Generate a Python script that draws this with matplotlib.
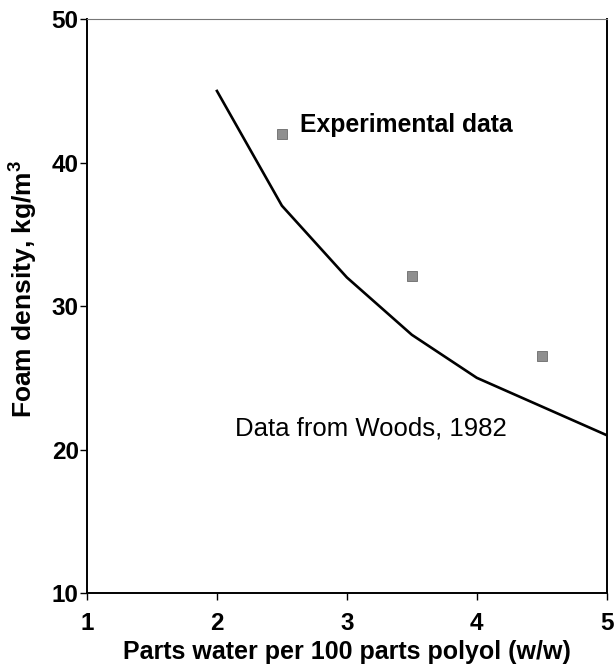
import matplotlib
matplotlib.use("Agg")
import matplotlib.pyplot as plt

# Data
woods_x = [2.0, 2.5, 3.0, 3.5, 4.0, 4.5, 5.0]
woods_y = [45.0, 37.0, 32.0, 28.0, 25.0, 23.0, 21.0]
exp_x = [2.5, 3.5, 4.5]
exp_y = [42.0, 32.1, 26.5]
x_ticks = [1, 2, 3, 4, 5]
y_ticks = [10, 20, 30, 40, 50]

plt.rcParams['font.family'] = ['Liberation Sans', 'DejaVu Sans']
plt.rcParams['mathtext.fontset'] = 'custom'
plt.rcParams['mathtext.rm'] = 'Liberation Sans'
plt.rcParams['mathtext.bf'] = 'Liberation Sans:bold'

fig = plt.figure(figsize=(6.15, 6.64), dpi=100)
ax = fig.add_axes([0.1415, 0.107, 0.845, 0.864])

ax.plot(woods_x, woods_y, color='black', lw=1.9, solid_joinstyle='miter')
ax.plot(exp_x, exp_y, linestyle='none', marker='s', markersize=6.5,
        markerfacecolor='#8f8f8f', markeredgecolor='#6a6a6a', markeredgewidth=0.6)

ax.set_xlim(1, 5)
ax.set_ylim(10, 50)
ax.set_xticks(x_ticks)
ax.set_yticks(y_ticks)
ax.set_xticklabels([str(v) for v in x_ticks], fontsize=17.5, fontweight='bold')
ax.set_yticklabels([str(v) for v in y_ticks], fontsize=17.5, fontweight='bold')
ax.tick_params(axis='y', direction='out', length=5, width=1.0, pad=1, colors='black')
ax.tick_params(axis='x', direction='out', length=5, width=1.0, pad=9, colors='black')

for s in ['left', 'bottom', 'right']:
    ax.spines[s].set_linewidth(1.4)
ax.spines['top'].set_linewidth(0.8)
ax.spines['top'].set_color('#777777')

ax.set_xlabel('Parts water per 100 parts polyol (w/w)', fontsize=18, fontweight='bold', labelpad=3)
ax.set_ylabel('Foam density, kg/m$^\\mathbf{3}$', fontsize=19, fontweight='bold', labelpad=4)
ax.yaxis.set_label_coords(-0.092, 0.53)

ax.text(2.64, 42.13, 'Experimental data', fontsize=17.8, fontweight='bold',
        ha='left', va='baseline')
ax.text(2.14, 20.95, 'Data from Woods, 1982', fontsize=18.5,
        ha='left', va='baseline')

fig.savefig('out.png', dpi=100)
